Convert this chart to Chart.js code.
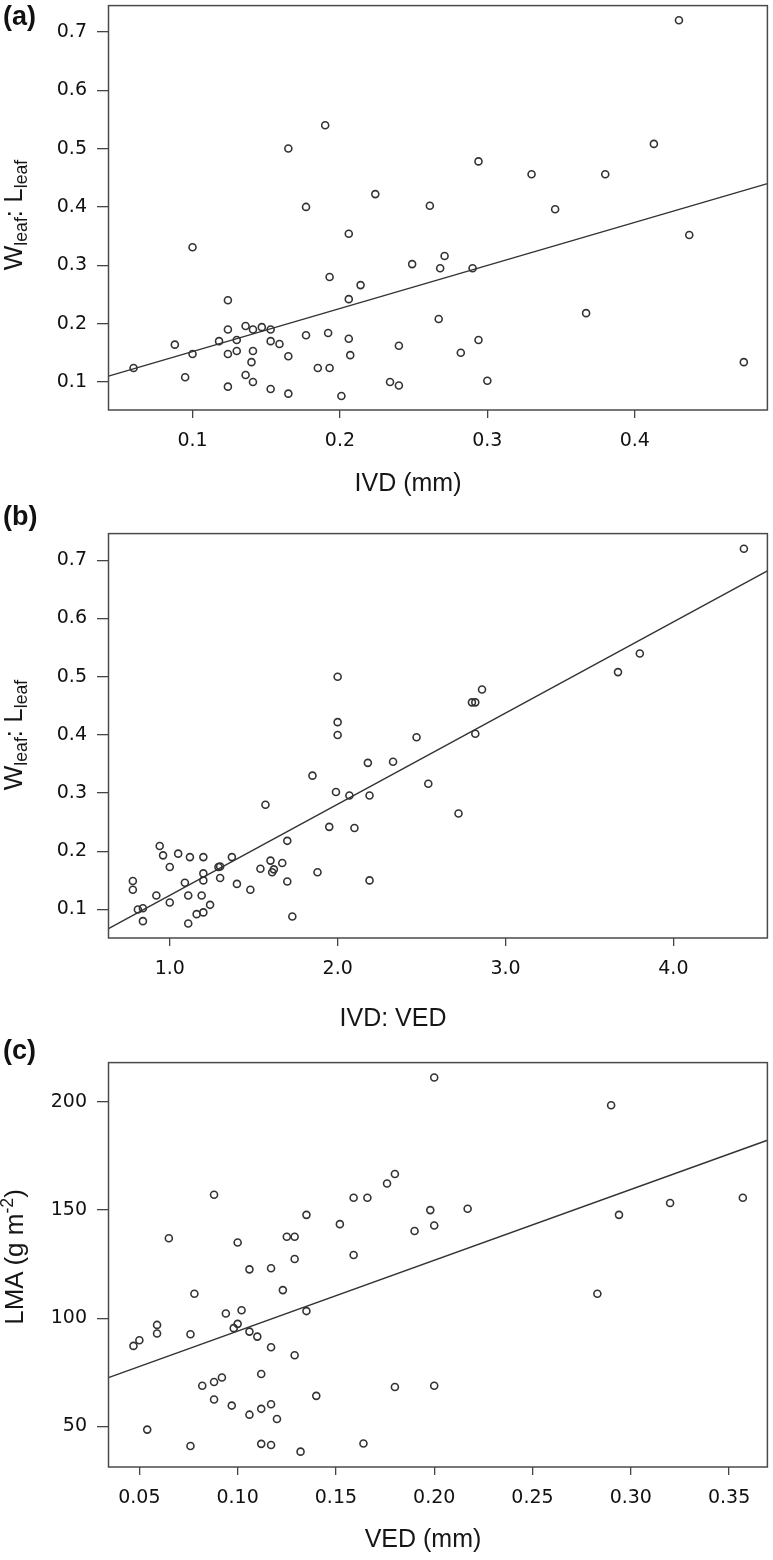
<!DOCTYPE html>
<html>
<head>
<meta charset="utf-8">
<script src="https://cdn.jsdelivr.net/npm/chart.js@4.4.1/dist/chart.umd.min.js"></script>
<style>
  body { margin: 0; background: #fff; }
  #page { position: relative; width: 773px; height: 1560px; overflow: hidden; background: #fff; }
  canvas { position: absolute; left: 0; }
  .lbl { position: absolute; font: bold 27px "Liberation Sans", Arial, sans-serif; line-height: 1; color: #111; }
  .ytitle, .xtitle { position: absolute; font: 25px "Liberation Sans", Arial, sans-serif; line-height: 1; color: #161616; white-space: nowrap; }
  .ytitle { font-size: 26px; transform: translate(-50%, -50%) rotate(-90deg); }
  .xtitle { transform: translate(-50%, -50%); }
  sub { font-size: 0.68em; vertical-align: -0.28em; line-height: 0; }
  sup { font-size: 0.68em; vertical-align: 0.55em; line-height: 0; }
</style>
</head>
<body>
<div id="page">
  <canvas id="chartA" width="773" height="500" style="top:0px"></canvas>
  <canvas id="chartB" width="773" height="500" style="top:528px"></canvas>
  <canvas id="chartC" width="773" height="503" style="top:1057px"></canvas>

  <div class="lbl" style="left:3px;top:3px">(a)</div>
  <div class="lbl" style="left:3px;top:503px">(b)</div>
  <div class="lbl" style="left:3px;top:1037px">(c)</div>

  <div class="ytitle" style="left:13px;top:215px">W<sub>leaf</sub>: L<sub>leaf</sub></div>
  <div class="ytitle" style="left:13px;top:735px">W<sub>leaf</sub>: L<sub>leaf</sub></div>
  <div class="ytitle" style="left:14px;top:1257px">LMA (g m<sup>-2</sup>)</div>

  <div class="xtitle" style="left:408px;top:482px">IVD (mm)</div>
  <div class="xtitle" style="left:393px;top:1017px">IVD: VED</div>
  <div class="xtitle" style="left:423px;top:1538px">VED (mm)</div>
</div>
<script>
// (a) IVD (mm) vs Wleaf:Lleaf
var aX = [0.430, 0.165, 0.190, 0.177, 0.224, 0.206, 0.261, 0.294, 0.330, 0.346, 0.380, 0.413, 0.437, 0.100, 0.249, 0.271,
          0.268, 0.290, 0.193, 0.214, 0.206, 0.124, 0.367, 0.267, 0.136, 0.147, 0.141, 0.153, 0.124, 0.118, 0.130, 0.153,
          0.159, 0.088, 0.100, 0.124, 0.130, 0.141, 0.140, 0.165, 0.192, 0.177, 0.206, 0.207, 0.240, 0.294, 0.282, 0.060,
          0.185, 0.193, 0.095, 0.136, 0.141, 0.124, 0.153, 0.165, 0.201, 0.234, 0.240, 0.300, 0.474];
var aY = [0.720, 0.500, 0.540, 0.400, 0.422, 0.354, 0.402, 0.478, 0.456, 0.396, 0.456, 0.508, 0.352, 0.331, 0.302, 0.316,
          0.295, 0.295, 0.280, 0.266, 0.242, 0.240, 0.218, 0.208, 0.196, 0.194, 0.190, 0.190, 0.190, 0.170, 0.172, 0.170,
          0.165, 0.164, 0.148, 0.148, 0.153, 0.153, 0.134, 0.144, 0.184, 0.180, 0.174, 0.146, 0.162, 0.172, 0.150, 0.124,
          0.124, 0.124, 0.108, 0.112, 0.100, 0.092, 0.088, 0.080, 0.076, 0.100, 0.094, 0.102, 0.134];
var aFitX = [0.043, 0.490];
var aFitY = [0.110, 0.440];
var aXTicks = [0.1, 0.2, 0.3, 0.4];
var aXLabels = ['0.1', '0.2', '0.3', '0.4'];
var aYTicks = [0.1, 0.2, 0.3, 0.4, 0.5, 0.6, 0.7];
var aYLabels = ['0.1', '0.2', '0.3', '0.4', '0.5', '0.6', '0.7'];

// (b) IVD:VED vs Wleaf:Lleaf
var bX = [4.42, 2.00, 2.00, 2.00, 2.18, 2.33, 2.47, 2.80, 2.82, 2.86, 2.82, 3.67, 3.80, 1.85, 1.99, 2.07, 2.19, 2.54, 2.72, 1.57,
          1.95, 2.10, 1.70, 1.88, 2.19, 1.73, 1.60, 1.67, 1.54, 1.62, 1.61, 1.70, 1.48, 1.40, 1.37, 1.29, 1.30, 1.30, 1.20, 1.12,
          1.05, 0.94, 0.96, 1.00, 1.20, 1.20, 1.09, 0.78, 0.78, 0.92, 1.11, 1.19, 1.00, 1.24, 0.81, 0.84, 0.84, 1.16, 1.20, 1.11];
var bY = [0.720, 0.500, 0.422, 0.400, 0.352, 0.354, 0.396, 0.456, 0.456, 0.478, 0.402, 0.508, 0.540, 0.330, 0.302, 0.296,
          0.296, 0.316, 0.265, 0.280, 0.242, 0.240, 0.218, 0.164, 0.150, 0.088, 0.184, 0.180, 0.170, 0.169, 0.164, 0.148,
          0.134, 0.144, 0.190, 0.173, 0.174, 0.154, 0.190, 0.190, 0.196, 0.209, 0.193, 0.173, 0.162, 0.150, 0.146, 0.149,
          0.134, 0.124, 0.124, 0.124, 0.112, 0.108, 0.100, 0.102, 0.080, 0.092, 0.095, 0.076];
var bFitX = [0.635, 4.56];
var bFitY = [0.067, 0.682];
var bXTicks = [1, 2, 3, 4];
var bXLabels = ['1.0', '2.0', '3.0', '4.0'];
var bYTicks = [0.1, 0.2, 0.3, 0.4, 0.5, 0.6, 0.7];
var bYLabels = ['0.1', '0.2', '0.3', '0.4', '0.5', '0.6', '0.7'];

// (c) VED (mm) vs LMA
var cX = [0.200, 0.290, 0.088, 0.065, 0.100, 0.106, 0.117, 0.123, 0.078, 0.125, 0.129, 0.129, 0.135, 0.152, 0.159, 0.166,
          0.159, 0.176, 0.180, 0.190, 0.198, 0.200, 0.217, 0.283, 0.294, 0.320, 0.357, 0.135, 0.094, 0.102, 0.100, 0.098,
          0.106, 0.110, 0.117, 0.129, 0.047, 0.050, 0.059, 0.059, 0.076, 0.112, 0.092, 0.088, 0.082, 0.180, 0.200, 0.140,
          0.088, 0.097, 0.117, 0.112, 0.106, 0.120, 0.054, 0.076, 0.112, 0.117, 0.132, 0.164];
var cY = [211.3, 198.5, 157.1, 137.0, 135.0, 122.6, 123.1, 113.0, 111.3, 137.7, 137.7, 127.4, 147.8, 143.5, 155.7, 155.7,
          129.2, 162.3, 166.7, 140.3, 150.0, 142.9, 150.6, 111.3, 147.8, 153.3, 155.7, 103.3, 102.2, 103.7, 97.4, 95.4,
          93.8, 91.5, 86.6, 82.9, 87.2, 89.8, 96.9, 92.9, 92.6, 74.2, 72.6, 70.5, 68.8, 68.2, 68.8, 64.1,
          62.4, 59.6, 60.2, 58.1, 55.4, 53.4, 48.5, 40.9, 41.9, 41.4, 38.3, 42.1];
var cFitX = [0.0343, 0.3695];
var cFitY = [72.5, 182.3];
var cXTicks = [0.05, 0.10, 0.15, 0.20, 0.25, 0.30, 0.35];
var cXLabels = ['0.05', '0.10', '0.15', '0.20', '0.25', '0.30', '0.35'];
var cYTicks = [50, 100, 150, 200];
var cYLabels = ['50', '100', '150', '200'];

var ink = '#333';
var tickFont = { family: '"DejaVu Sans", "Liberation Sans", sans-serif', size: 19 };

// box around the plot area
var framePlugin = {
  id: 'frame',
  afterDraw: function (chart) {
    var a = chart.chartArea;
    var ctx = chart.ctx;
    ctx.save();
    ctx.strokeStyle = '#4a4a4a';
    ctx.lineWidth = 1.5;
    ctx.strokeRect(a.left, a.top, a.right - a.left, a.bottom - a.top);
    ctx.restore();
  }
};

function pairs(xs, ys) {
  return xs.map(function (x, i) { return { x: x, y: ys[i] }; });
}

function makePanel(id, xs, ys, fitX, fitY, xr, yr, xTicks, xLabels, yTicks, yLabels) {
  var cv = document.getElementById(id);
  var H = cv.height;
  new Chart(cv.getContext('2d'), {
    type: 'scatter',
    data: {
      datasets: [{
        data: pairs(xs, ys),
        pointStyle: 'circle',
        pointRadius: 3.5,
        pointBorderWidth: 1.6,
        pointBorderColor: ink,
        pointBackgroundColor: 'rgba(255,255,255,0)',
        borderColor: ink
      }, {
        data: pairs(fitX, fitY),
        showLine: true,
        borderColor: ink,
        borderWidth: 1.4,
        pointRadius: 0
      }]
    },
    options: {
      responsive: false,
      animation: false,
      layout: { padding: { top: 3, right: 1, left: 0, bottom: 0 } },
      plugins: { legend: { display: false }, tooltip: { enabled: false } },
      scales: {
        x: {
          type: 'linear',
          min: xr[0],
          max: xr[1],
          afterFit: function (s) { s.height = H - 410; s.paddingLeft = 0; s.paddingRight = 0; },
          afterBuildTicks: function (s) { s.ticks = xTicks.map(function (v) { return { value: v }; }); },
          grid: { drawOnChartArea: false, drawTicks: true, tickLength: 8, color: '#444', lineWidth: 1.3 },
          border: { display: false },
          ticks: {
            padding: 12,
            maxRotation: 0,
            autoSkip: false,
            color: '#111',
            font: tickFont,
            callback: function (v, i) { return xLabels[i]; }
          }
        },
        y: {
          type: 'linear',
          min: yr[0],
          max: yr[1],
          // no extra room for the end labels: the plot box starts right at the top padding
          afterFit: function (s) { s.width = 108.5; s.paddingTop = 0; s.paddingBottom = 0; },
          afterBuildTicks: function (s) { s.ticks = yTicks.map(function (v) { return { value: v }; }); },
          grid: { drawOnChartArea: false, drawTicks: true, tickLength: 11.5, color: '#444', lineWidth: 1.3 },
          border: { display: false },
          ticks: {
            padding: 10,
            autoSkip: false,
            color: '#111',
            font: tickFont,
            callback: function (v, i) { return yLabels[i]; }
          }
        }
      }
    },
    plugins: [framePlugin]
  });
}

makePanel('chartA', aX, aY, aFitX, aFitY, [0.043, 0.490], [0.052, 0.745], aXTicks, aXLabels, aYTicks, aYLabels);
makePanel('chartB', bX, bY, bFitX, bFitY, [0.635, 4.56], [0.051, 0.746], bXTicks, bXLabels, bYTicks, bYLabels);
makePanel('chartC', cX, cY, cFitX, cFitY, [0.0343, 0.3695], [31.2, 218.2], cXTicks, cXLabels, cYTicks, cYLabels);
</script>
</body>
</html>
